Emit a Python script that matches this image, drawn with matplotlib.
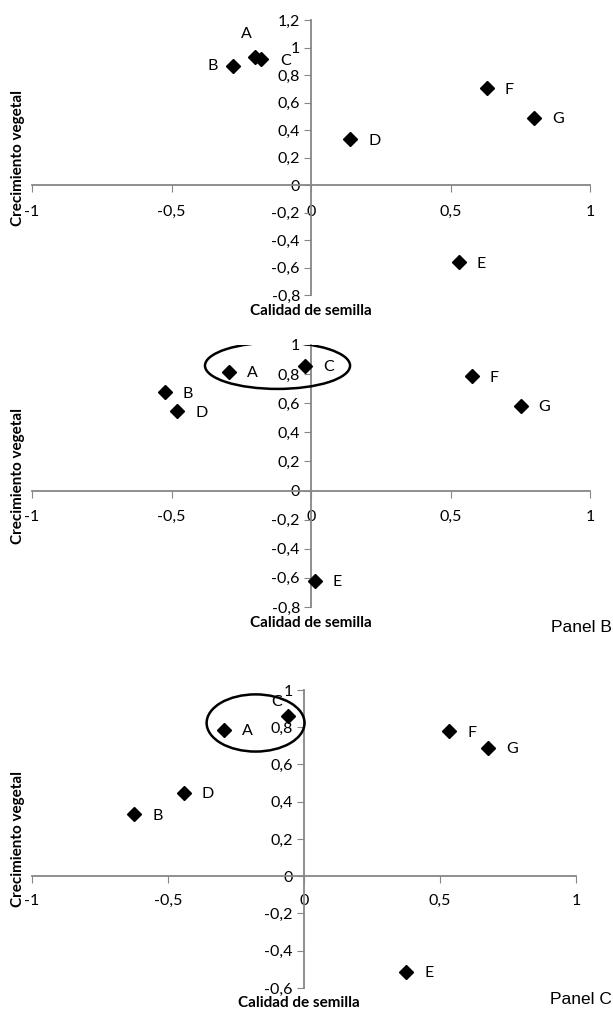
import matplotlib
matplotlib.use('Agg')
import matplotlib.pyplot as plt
from matplotlib.patches import Ellipse

plt.rcParams['font.family'] = ['Lato', 'DejaVu Sans']

# Datos de los tres paneles
nombres = ['A', 'B', 'C', 'D', 'E', 'F', 'G']

calidad_a = [-0.20, -0.28, -0.18, 0.14, 0.53, 0.63, 0.80]
crecim_a = [0.93, 0.87, 0.915, 0.335, -0.56, 0.705, 0.49]

calidad_b = [-0.295, -0.525, -0.022, -0.48, 0.013, 0.576, 0.751]
crecim_b = [0.815, 0.675, 0.855, 0.545, -0.62, 0.785, 0.58]

calidad_c = [-0.293, -0.625, -0.06, -0.442, 0.376, 0.534, 0.677]
crecim_c = [0.787, 0.332, 0.863, 0.448, -0.513, 0.778, 0.691]

xticks = [-1, -0.5, 0, 0.5, 1]
xticklabels = ['-1', '-0,5', '0', '0,5', '1']
yticks_a = [-0.8, -0.6, -0.4, -0.2, 0, 0.2, 0.4, 0.6, 0.8, 1, 1.2]
yticks_b = [-0.8, -0.6, -0.4, -0.2, 0, 0.2, 0.4, 0.6, 0.8, 1]
yticks_c = [-0.6, -0.4, -0.2, 0, 0.2, 0.4, 0.6, 0.8, 1]

gris = '#868686'


def etiqueta(v):
    s = ('%g' % v).replace('.', ',')
    return '0' if s == '-0' else s


def panel(ax, xs, ys, yticks, offsets, pad_x=9):
    ax.set_xlim(-1, 1)
    ax.set_ylim(yticks[0], yticks[-1])
    for lado in ['top', 'right']:
        ax.spines[lado].set_visible(False)
    ax.spines['left'].set_position(('data', 0))
    ax.spines['bottom'].set_position(('data', 0))
    for lado in ['left', 'bottom']:
        ax.spines[lado].set_color(gris)
        ax.spines[lado].set_linewidth(1.3)
    ax.patch.set_visible(False)
    ax.set_xticks(xticks)
    ax.set_xticklabels(xticklabels)
    ax.set_yticks(yticks)
    ax.set_yticklabels([etiqueta(v) for v in yticks])
    ax.tick_params(axis='x', direction='out', length=5, color=gris, pad=pad_x,
                   labelsize=11.5)
    ax.tick_params(axis='y', direction='out', length=5, color=gris, pad=3,
                   labelsize=11.5)
    ax.plot(xs, ys, 'D', color='black', markersize=7, zorder=3)
    for n, x, y in zip(nombres, xs, ys):
        dx, dy, ha = offsets.get(n, (13, -1, 'left'))
        ax.annotate(n, (x, y), xytext=(dx, dy), textcoords='offset points',
                    ha=ha, va='center', fontsize=11.5)
    ax.text(-0.025, 0.5, 'Crecimiento vegetal', transform=ax.transAxes,
            rotation=90, ha='center', va='center', fontsize=11,
            fontweight='bold')


fig = plt.figure(figsize=(6.13, 10.11), dpi=100)

ax1 = fig.add_axes([0.0522, 0.708, 0.9103, 0.272])
panel(ax1, calidad_a, crecim_a, yticks_a,
      {'A': (-6, 17, 'center'), 'B': (-11, 0, 'right'), 'C': (14, -1, 'left')})
ax1.text(0.5, -0.058, 'Calidad de semilla', transform=ax1.transAxes,
         ha='center', va='center', fontsize=11, fontweight='bold')

ax2 = fig.add_axes([0.0522, 0.3996, 0.9103, 0.2592])
panel(ax2, calidad_b, crecim_b, yticks_b, {})
ax2.add_patch(Ellipse((-0.12, 0.858), 0.52, 0.32, fill=False,
                      edgecolor='black', linewidth=1.8, zorder=4))
ax2.text(0.5, -0.062, 'Calidad de semilla', transform=ax2.transAxes,
         ha='center', va='center', fontsize=11, fontweight='bold')

ax3 = fig.add_axes([0.0522, 0.0228, 0.8874, 0.2947])
panel(ax3, calidad_c, crecim_c, yticks_c,
      {'C': (-8, 10, 'center')}, pad_x=8)
ax3.add_patch(Ellipse((-0.178, 0.823), 0.36, 0.307, fill=False,
                      edgecolor='black', linewidth=1.8, zorder=4))
ax3.text(0.49, -0.052, 'Calidad de semilla', transform=ax3.transAxes,
         ha='center', va='center', fontsize=11, fontweight='bold')

fig.text(0.998, 1 - 627 / 1011, 'Panel B', ha='right', va='center',
         fontsize=12.5, family=['Liberation Sans', 'DejaVu Sans'])
fig.text(0.998, 1 - 1000 / 1011, 'Panel C', ha='right', va='center',
         fontsize=12.5, family=['Liberation Sans', 'DejaVu Sans'])

fig.savefig('out.png', dpi=100)
